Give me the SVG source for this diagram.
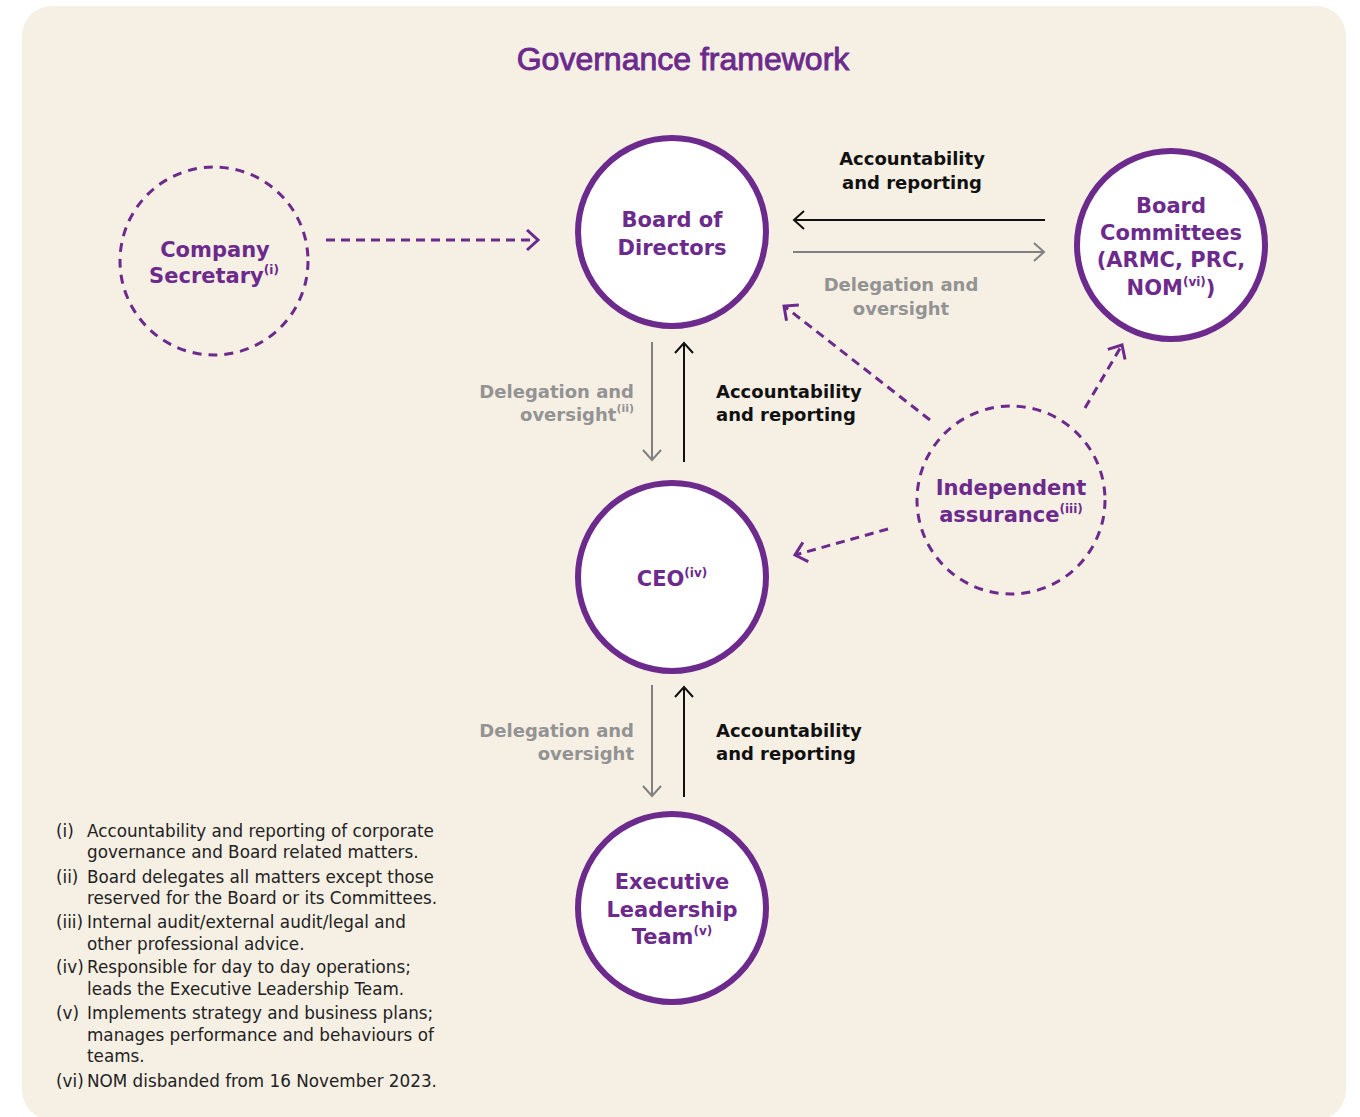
<svg xmlns="http://www.w3.org/2000/svg" width="1360" height="1117" viewBox="0 0 1360 1117">
<style>
.bg{fill:#F6EFE4}
.node{fill:#fff;stroke:#6C2A8C;stroke-width:6}
.dnode{fill:none;stroke:#6C2A8C;stroke-width:3;stroke-dasharray:9 7}
.nl{font-family:"DejaVu Sans",sans-serif;font-weight:bold;font-size:21px;fill:#6C2A8C;text-anchor:middle}
.sup{font-size:12px}
.lb{font-family:"DejaVu Sans",sans-serif;font-weight:bold;font-size:18px;fill:#111}
.lg{font-family:"DejaVu Sans",sans-serif;font-weight:bold;font-size:18px;fill:#939393}
.fn{font-family:"DejaVu Sans",sans-serif;font-size:16.8px;fill:#222}
.title{font-family:"Liberation Sans",Arial,sans-serif;font-size:32px;fill:#6C2A8C;stroke:#6C2A8C;stroke-width:0.9}
.ab{stroke:#111;stroke-width:2;fill:none}
.ag{stroke:#808080;stroke-width:2;fill:none}
.ap{stroke:#6C2A8C;stroke-width:3;fill:none;stroke-dasharray:9 6}
</style>
<defs>
<marker id="hb" markerUnits="userSpaceOnUse" markerWidth="14" markerHeight="22" refX="11" refY="10" orient="auto" viewBox="0 0 14 22"><path d="M1,1 L11,10 L1,19" fill="none" stroke="#111" stroke-width="2"/></marker>
<marker id="hg" markerUnits="userSpaceOnUse" markerWidth="14" markerHeight="22" refX="11" refY="10" orient="auto" viewBox="0 0 14 22"><path d="M1,1 L11,10 L1,19" fill="none" stroke="#808080" stroke-width="2"/></marker>
<marker id="hp" markerUnits="userSpaceOnUse" markerWidth="16" markerHeight="24" refX="12" refY="11" orient="auto" viewBox="0 0 16 24"><path d="M1,1 L12,11 L1,21" fill="none" stroke="#6C2A8C" stroke-width="3"/></marker>
</defs>
<rect class="bg" x="22" y="6" width="1324" height="1114" rx="30"/>
<text class="title" x="683" y="70" text-anchor="middle">Governance framework</text>

<g id="connectors">
<line class="ap" x1="326" y1="240" x2="538" y2="240" marker-end="url(#hp)"/>
<line class="ab" x1="1045" y1="220" x2="794" y2="220" marker-end="url(#hb)"/>
<line class="ag" x1="793" y1="252" x2="1044" y2="252" marker-end="url(#hg)"/>
<line class="ag" x1="652" y1="342" x2="652" y2="460" marker-end="url(#hg)"/>
<line class="ab" x1="684" y1="462" x2="684" y2="343" marker-end="url(#hb)"/>
<line class="ag" x1="652" y1="685" x2="652" y2="796" marker-end="url(#hg)"/>
<line class="ab" x1="684" y1="797" x2="684" y2="687" marker-end="url(#hb)"/>
<line class="ap" x1="930" y1="420" x2="784" y2="306" marker-end="url(#hp)"/>
<line class="ap" x1="1085" y1="408" x2="1122" y2="345" marker-end="url(#hp)"/>
<line class="ap" x1="888" y1="529" x2="795" y2="555" marker-end="url(#hp)"/>
<text class="lb" x="912" y="165" text-anchor="middle">Accountability</text>
<text class="lb" x="912" y="189" text-anchor="middle">and reporting</text>
<text class="lg" x="901" y="291" text-anchor="middle">Delegation and</text>
<text class="lg" x="901" y="315" text-anchor="middle">oversight</text>
<text class="lg" x="634" y="398" text-anchor="end">Delegation and</text>
<text class="lg" x="634" y="421" text-anchor="end">oversight<tspan font-size="11" dy="-9">(ii)</tspan></text>
<text class="lb" x="716" y="398">Accountability</text>
<text class="lb" x="716" y="421">and reporting</text>
<text class="lg" x="634" y="737" text-anchor="end">Delegation and</text>
<text class="lg" x="634" y="760" text-anchor="end">oversight</text>
<text class="lb" x="716" y="737">Accountability</text>
<text class="lb" x="716" y="760">and reporting</text>
</g>

<g id="company-secretary">
<circle class="dnode" cx="214" cy="261" r="94"/>
<text class="nl" x="215" y="257">Company</text>
<text class="nl" x="214" y="283">Secretary<tspan class="sup" dy="-9">(i)</tspan></text>
</g>
<g id="board-of-directors">
<circle class="node" cx="672" cy="232" r="94"/>
<text class="nl" x="672" y="227">Board of</text>
<text class="nl" x="672" y="255">Directors</text>
</g>
<g id="board-committees">
<circle class="node" cx="1171" cy="245" r="94"/>
<text class="nl" x="1171" y="213">Board</text>
<text class="nl" x="1171" y="240">Committees</text>
<text class="nl" x="1171" y="267">(ARMC, PRC,</text>
<text class="nl" x="1171" y="295">NOM<tspan class="sup" dy="-9">(vi)</tspan><tspan dy="9">)</tspan></text>
</g>
<g id="independent-assurance">
<circle class="dnode" cx="1011" cy="500" r="94"/>
<text class="nl" x="1011" y="495">Independent</text>
<text class="nl" x="1011" y="522">assurance<tspan class="sup" dy="-9">(iii)</tspan></text>
</g>
<g id="ceo">
<circle class="node" cx="672" cy="577" r="94"/>
<text class="nl" x="672" y="586">CEO<tspan class="sup" dy="-9">(iv)</tspan></text>
</g>
<g id="executive-leadership-team">
<circle class="node" cx="672" cy="908" r="94"/>
<text class="nl" x="672" y="889">Executive</text>
<text class="nl" x="672" y="917">Leadership</text>
<text class="nl" x="672" y="944">Team<tspan class="sup" dy="-9">(v)</tspan></text>
</g>

<g id="footnotes">
<text class="fn" x="56" y="837">(i)</text>
<text class="fn" x="87" y="837">Accountability and reporting of corporate</text>
<text class="fn" x="87" y="858">governance and Board related matters.</text>
<text class="fn" x="56" y="883">(ii)</text>
<text class="fn" x="87" y="883">Board delegates all matters except those</text>
<text class="fn" x="87" y="904">reserved for the Board or its Committees.</text>
<text class="fn" x="56" y="928">(iii)</text>
<text class="fn" x="87" y="928">Internal audit/external audit/legal and</text>
<text class="fn" x="87" y="950">other professional advice.</text>
<text class="fn" x="56" y="973">(iv)</text>
<text class="fn" x="87" y="973">Responsible for day to day operations;</text>
<text class="fn" x="87" y="995">leads the Executive Leadership Team.</text>
<text class="fn" x="56" y="1019">(v)</text>
<text class="fn" x="87" y="1019">Implements strategy and business plans;</text>
<text class="fn" x="87" y="1041">manages performance and behaviours of</text>
<text class="fn" x="87" y="1062">teams.</text>
<text class="fn" x="56" y="1087">(vi)</text>
<text class="fn" x="87" y="1087">NOM disbanded from 16 November 2023.</text>
</g>
</svg>
